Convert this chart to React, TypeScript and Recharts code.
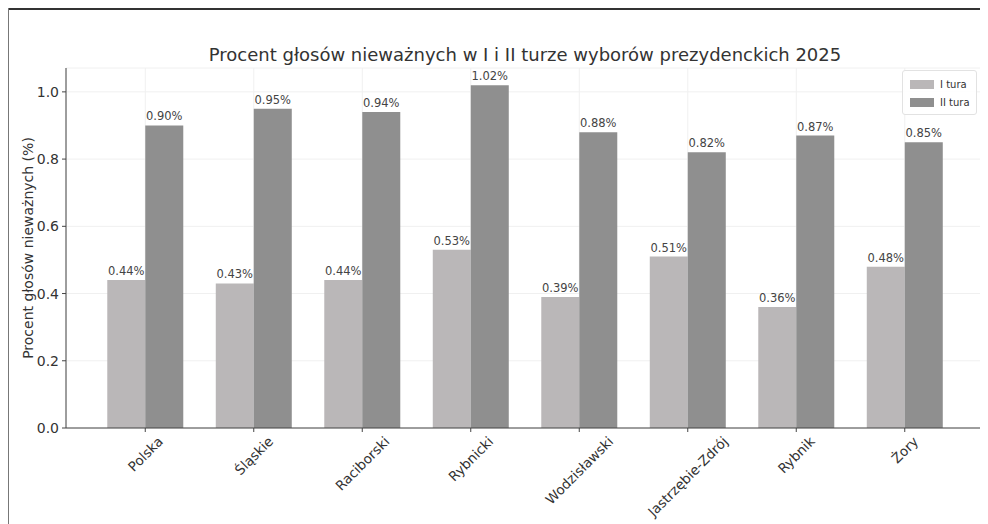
import React from 'react';
import { BarChart, Bar, XAxis, YAxis, CartesianGrid, LabelList } from 'recharts';

const categories = ['Polska', 'Śląskie', 'Raciborski', 'Rybnicki', 'Wodzisławski', 'Jastrzębie-Zdrój', 'Rybnik', 'Żory'];
const tura1 = [0.44, 0.43, 0.44, 0.53, 0.39, 0.51, 0.36, 0.48];
const tura2 = [0.90, 0.95, 0.94, 1.02, 0.88, 0.82, 0.87, 0.85];
const yTicks = [0, 0.2, 0.4, 0.6, 0.8, 1.0];
const seriesNames = ['I tura', 'II tura'];

const data = categories.map((c, i) => ({ name: c, t1: tura1[i], t2: tura2[i] }));

const FONT = '"DejaVu Sans", sans-serif';
const LIGHT = '#bab7b8';
const DARK = '#8f8f8f';

let ctx: CanvasRenderingContext2D | null = null;
function measure(text: string, fs: number): number {
  if (!ctx) {
    const c = document.createElement('canvas');
    ctx = c.getContext('2d');
  }
  if (!ctx) return text.length * fs * 0.6;
  ctx.font = `${fs}px "DejaVu Sans"`;
  return ctx.measureText(text).width;
}

const XTick = (props: any) => {
  const { x, y, payload } = props;
  const fs = 13.5;
  const w = measure(String(payload.value), fs);
  const h = fs * 1.0;
  const half = (w + h) * 0.7071 / 2;
  const cx = x;
  const cy = y + half;
  return (
    <text x={cx} y={cy} textAnchor="middle" dominantBaseline="central" fontSize={fs} fontFamily={FONT} fill="#333"
      transform={`rotate(-45, ${cx}, ${cy})`}>
      {payload.value}
    </text>
  );
};

export default function App() {
  return (
    <div style={{ position: 'relative', width: 980, height: 516 }}>
      <div style={{ position: 'absolute', left: -1, top: 0, width: 981, height: 2, background: '#333' }} />
      <div style={{ position: 'absolute', left: -1, top: 0, width: 2, height: 516, background: '#777' }} />
      <div style={{ position: 'absolute', left: 0, top: 36, width: 1034, textAlign: 'center', fontFamily: FONT, fontSize: 18, color: '#333' }}>
        Procent głosów nieważnych w I i II turze wyborów prezydenckich 2025
      </div>
      <div style={{ position: 'absolute', left: 20, top: 240, width: 0, height: 0 }}>
        <div style={{ position: 'absolute', transform: 'translate(-50%, -50%) rotate(-90deg)', whiteSpace: 'nowrap', fontFamily: FONT, fontSize: 14, color: '#333' }}>
          Procent głosów nieważnych (%)
        </div>
      </div>
      <BarChart width={980} height={516} data={data} margin={{ top: 60, right: 4, left: 8, bottom: 0 }}
        barCategoryGap="15%" barGap={0} style={{ position: 'absolute', left: 0, top: 0 }}>
        <CartesianGrid stroke="#f0f0f0" strokeWidth={1} />
        <XAxis dataKey="name" interval={0} height={96} padding={{ left: 25, right: 25 }}
          tick={<XTick />} tickSize={4} tickMargin={2} stroke="#444" axisLine={{ stroke: '#444' }} tickLine={{ stroke: '#444' }} />
        <YAxis width={50} domain={[0, 1.071]} ticks={yTicks} tickFormatter={(v: number) => v.toFixed(1)}
          tick={{ fontSize: 14, fontFamily: FONT, fill: '#333' }} tickSize={4} tickMargin={3} stroke="#444" allowDataOverflow />
        <Bar dataKey="t1" name="I tura" fill={LIGHT} isAnimationActive={false}>
          <LabelList dataKey="t1" position="top" offset={5} formatter={(v: number) => `${v.toFixed(2)}%`}
            style={{ fontSize: 11.5, fontFamily: FONT, fill: '#444' }} />
        </Bar>
        <Bar dataKey="t2" name="II tura" fill={DARK} isAnimationActive={false}>
          <LabelList dataKey="t2" position="top" offset={5} formatter={(v: number) => `${v.toFixed(2)}%`}
            style={{ fontSize: 11.5, fontFamily: FONT, fill: '#444' }} />
        </Bar>
      </BarChart>
      <div style={{ position: 'absolute', left: 894, top: 62, boxSizing: 'border-box', border: '1px solid #e2e2e2', borderRadius: 3, background: 'rgba(255,255,255,0.9)', padding: '4px 6px 3px 7px', fontFamily: FONT, fontSize: 10, color: '#333', whiteSpace: 'nowrap' }}>
        {seriesNames.map((n, i) => (
          <div key={n} style={{ display: 'flex', alignItems: 'center', height: 18 }}>
            <span style={{ display: 'inline-block', width: 24, height: 9, background: i === 0 ? LIGHT : DARK, marginRight: 6 }} />
            <span>{n}</span>
          </div>
        ))}
      </div>
    </div>
  );
}
